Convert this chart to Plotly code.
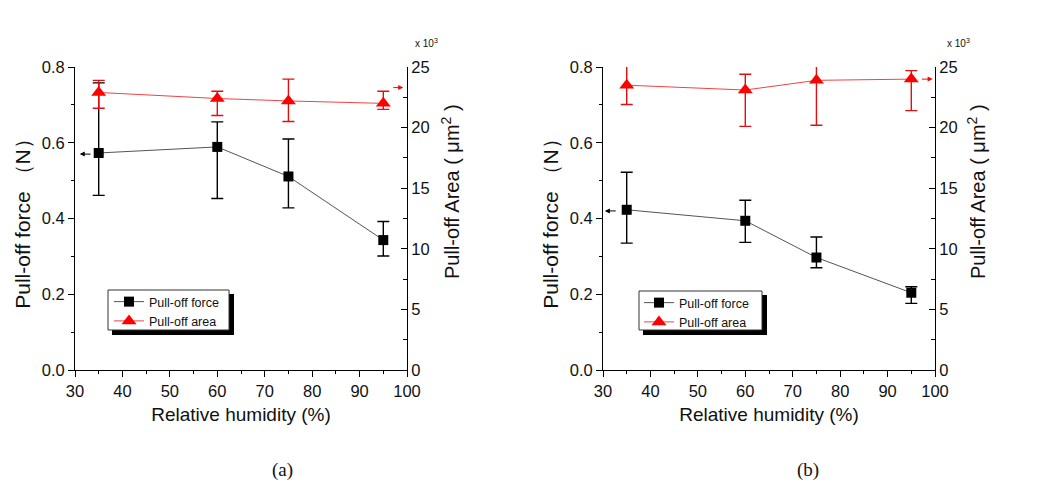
import plotly.graph_objects as go

# ---------------- data ----------------
humidity = [35, 60, 75, 95]

# panel (a)
force_a = [0.573, 0.589, 0.511, 0.343]
force_a_up = [0.185, 0.066, 0.099, 0.049]
force_a_dn = [0.112, 0.136, 0.083, 0.042]
area_a = [22.9, 22.4, 22.2, 22.0]          # x 10^3 um^2
area_a_up = [1.0, 0.6, 1.8, 1.0]
area_a_dn = [1.3, 1.4, 1.7, 0.5]

# panel (b)
force_b = [0.423, 0.394, 0.297, 0.204]
force_b_up = [0.099, 0.054, 0.054, 0.016]
force_b_dn = [0.088, 0.057, 0.027, 0.028]
area_b = [23.5, 23.1, 23.9, 24.0]
area_b_up = [1.6, 1.3, 2.3, 0.7]
area_b_dn = [1.6, 3.0, 3.7, 2.6]

x_ticks = [30, 40, 50, 60, 70, 80, 90, 100]
force_ticks = [0.0, 0.2, 0.4, 0.6, 0.8]
area_ticks = [0, 5, 10, 15, 20, 25]

FONT = "Arial, Liberation Sans, sans-serif"
BLACK = "#000000"
RED = "#ff0000"
TXT = "#111111"

W, H = 1047, 482
OFF = 8  # page body margin offset


def px(x):
    return (x - OFF) / W


def py(y):
    return 1 - (y - OFF) / H


fig = go.Figure()


def add_panel(force, fup, fdn, area, aup, adn, xa, ya, ya2, leg):
    fig.add_trace(go.Scatter(
        x=humidity, y=force, name="Pull-off force", mode="lines+markers",
        xaxis=xa, yaxis=ya, legend=leg,
        line=dict(color="#555555", width=1),
        marker=dict(symbol="square", size=10, color=BLACK),
        error_y=dict(type="data", symmetric=False, array=fup, arrayminus=fdn,
                     color=BLACK, thickness=1.4, width=6),
    ))
    fig.add_trace(go.Scatter(
        x=humidity, y=area, name="Pull-off area", mode="lines+markers",
        xaxis=xa, yaxis=ya2, legend=leg,
        line=dict(color="#ee4444", width=1),
        marker=dict(symbol="triangle-up", size=13, color=RED),
        error_y=dict(type="data", symmetric=False, array=aup, arrayminus=adn,
                     color="#e01010", thickness=1.4, width=6),
    ))


add_panel(force_a, force_a_up, force_a_dn, area_a, area_a_up, area_a_dn,
          "x", "y", "y2", "legend")
add_panel(force_b, force_b_up, force_b_dn, area_b, area_b_up, area_b_dn,
          "x2", "y3", "y4", "legend2")

dom_a = [px(75), px(407)]
dom_b = [px(603), px(935)]
ydom = [py(370), py(67)]

xcommon = dict(range=[30, 100], tickvals=x_ticks, ticks="outside", ticklen=6,
               tickwidth=1, tickcolor=BLACK, showline=True, linecolor=BLACK,
               linewidth=1, showgrid=False, zeroline=False, automargin=False,
               tickfont=dict(family=FONT, size=16.5, color=TXT),
               minor=dict(dtick=5, tick0=30, ticks="outside", ticklen=3,
                          tickcolor=BLACK),
               title=dict(text="Relative humidity (%)",
                          font=dict(family=FONT, size=19, color=TXT),
                          standoff=8))
ycommon = dict(range=[0, 0.8], tickvals=force_ticks, tickformat=".1f",
               ticks="outside", ticklen=6, tickcolor=BLACK, showline=True,
               linecolor=BLACK, linewidth=1, showgrid=False, zeroline=False,
               automargin=False,
               tickfont=dict(family=FONT, size=16.5, color=TXT),
               minor=dict(dtick=0.1, tick0=0, ticks="outside", ticklen=3,
                          tickcolor=BLACK),
               title=dict(text="Pull-off force （N）",
                          font=dict(family=FONT, size=21, color=TXT),
                          standoff=5))
y2common = dict(range=[0, 25], tickvals=area_ticks, side="right",
                ticks="inside", ticklen=6, tickcolor=BLACK, showline=True,
                linecolor=BLACK, linewidth=1, showgrid=False, zeroline=False,
                automargin=False,
                tickfont=dict(family=FONT, size=16.5, color=TXT),
                minor=dict(dtick=2.5, tick0=0, ticks="inside", ticklen=4,
                           tickcolor=BLACK))

legcommon = dict(xanchor="left", yanchor="top", bgcolor="rgba(0,0,0,0)",
                 borderwidth=0, font=dict(family=FONT, size=12.5, color=TXT),
                 tracegroupgap=0, itemwidth=30)

fig.update_layout(
    width=W, height=H,
    margin=dict(l=0, r=0, t=0, b=0, autoexpand=False),
    paper_bgcolor="white", plot_bgcolor="white",
    xaxis=dict(domain=dom_a, anchor="y", **xcommon),
    yaxis=dict(domain=ydom, anchor="x", **ycommon),
    yaxis2=dict(overlaying="y", anchor="x", **y2common),
    xaxis2=dict(domain=dom_b, anchor="y3", **xcommon),
    yaxis3=dict(domain=ydom, anchor="x2", **ycommon),
    yaxis4=dict(overlaying="y3", anchor="x2", **y2common),
    legend=dict(x=px(109), y=py(287), **legcommon),
    legend2=dict(x=px(639), y=py(288), **legcommon),
    showlegend=True,
)

# legend boxes with shadows (drawn as shapes, legend text on top)
for (x0, x1, y0, y1) in ((108, 229, 290, 330), (639, 762, 291, 330)):
    fig.add_shape(type="rect", xref="paper", yref="paper",
                  x0=px(x0 + 4), x1=px(x1 + 5),
                  y0=py(y1 + 5), y1=py(y0 + 4),
                  fillcolor=BLACK, line=dict(width=0), layer="above")
    fig.add_shape(type="rect", xref="paper", yref="paper",
                  x0=px(x0), x1=px(x1), y0=py(y1), y1=py(y0),
                  fillcolor="white", line=dict(color="#333333", width=1),
                  layer="above")

# right-axis titles
for xp in (450, 976):
    fig.add_annotation(x=px(xp), y=py(192), xref="paper", yref="paper",
                       xanchor="center", yanchor="middle",
                       text="Pull-off Area ( μm<sup>2</sup> )", textangle=-90,
                       showarrow=False,
                       font=dict(family=FONT, size=20, color=TXT))

# arrows
arrows = [
    dict(x=31.0, y=0.57, ax=33.6, ay=0.57, xref="x", yref="y", color=BLACK),
    dict(x=99.2, y=23.3, ax=96.8, ay=23.3, xref="x", yref="y2", color=RED),
    dict(x=30.4, y=0.42, ax=33.0, ay=0.42, xref="x2", yref="y3", color=BLACK),
    dict(x=99.5, y=24.0, ax=96.9, ay=24.0, xref="x2", yref="y4", color=RED),
]
for a in arrows:
    fig.add_annotation(x=a["x"], y=a["y"], ax=a["ax"], ay=a["ay"],
                       xref=a["xref"], yref=a["yref"],
                       axref=a["xref"], ayref=a["yref"], text="",
                       showarrow=True, arrowhead=2, arrowsize=1,
                       arrowwidth=1, arrowcolor=a["color"])

# x 10^3 labels
for xp in (426, 958):
    fig.add_annotation(x=px(xp), y=py(43), xref="paper", yref="paper",
                       xanchor="center", yanchor="middle",
                       text="x 10<sup>3</sup>", showarrow=False,
                       font=dict(family=FONT, size=10, color=TXT))

# panel labels
for xp, lab in ((282, "(a)"), (808, "(b)")):
    fig.add_annotation(x=px(xp), y=py(470), xref="paper", yref="paper",
                       xanchor="center", yanchor="middle",
                       text=lab, showarrow=False,
                       font=dict(family="Liberation Serif, Times New Roman, serif",
                                 size=19, color=TXT))

fig.write_html("out.html")
